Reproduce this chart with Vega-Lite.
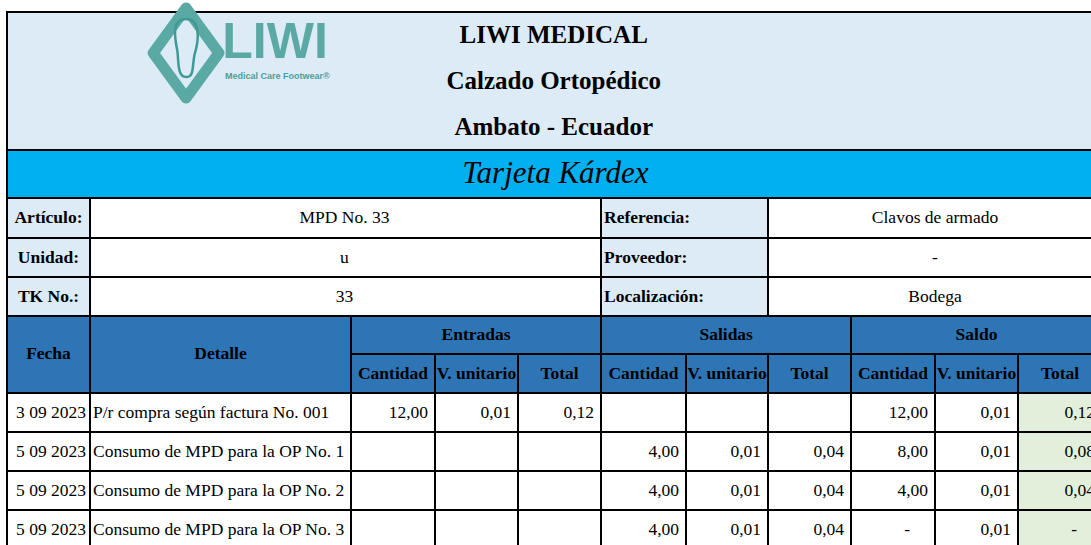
{
  "$schema": "https://vega.github.io/schema/vega-lite/v6.json",
  "width": 1091,
  "height": 545,
  "padding": 0,
  "autosize": "none",
  "background": "white",
  "config": {"view": {"stroke": null}},
  "datasets": {
    "cells": [
      {"c0": 0, "c1": 11, "r0": 0, "r1": 3, "z": "header"},
      {"c0": 0, "c1": 11, "r0": 3, "r1": 4, "z": "banner"},
      {"c0": 0, "c1": 1, "r0": 4, "r1": 5, "z": "label"},
      {"c0": 1, "c1": 5, "r0": 4, "r1": 5, "z": "value"},
      {"c0": 5, "c1": 7, "r0": 4, "r1": 5, "z": "label"},
      {"c0": 7, "c1": 11, "r0": 4, "r1": 5, "z": "value"},
      {"c0": 0, "c1": 1, "r0": 5, "r1": 6, "z": "label"},
      {"c0": 1, "c1": 5, "r0": 5, "r1": 6, "z": "value"},
      {"c0": 5, "c1": 7, "r0": 5, "r1": 6, "z": "label"},
      {"c0": 7, "c1": 11, "r0": 5, "r1": 6, "z": "value"},
      {"c0": 0, "c1": 1, "r0": 6, "r1": 7, "z": "label"},
      {"c0": 1, "c1": 5, "r0": 6, "r1": 7, "z": "value"},
      {"c0": 5, "c1": 7, "r0": 6, "r1": 7, "z": "label"},
      {"c0": 7, "c1": 11, "r0": 6, "r1": 7, "z": "value"},
      {"c0": 0, "c1": 1, "r0": 7, "r1": 9, "z": "colhead"},
      {"c0": 1, "c1": 2, "r0": 7, "r1": 9, "z": "colhead"},
      {"c0": 2, "c1": 5, "r0": 7, "r1": 8, "z": "colhead"},
      {"c0": 5, "c1": 8, "r0": 7, "r1": 8, "z": "colhead"},
      {"c0": 8, "c1": 11, "r0": 7, "r1": 8, "z": "colhead"},
      {"c0": 2, "c1": 3, "r0": 8, "r1": 9, "z": "colhead"},
      {"c0": 3, "c1": 4, "r0": 8, "r1": 9, "z": "colhead"},
      {"c0": 4, "c1": 5, "r0": 8, "r1": 9, "z": "colhead"},
      {"c0": 5, "c1": 6, "r0": 8, "r1": 9, "z": "colhead"},
      {"c0": 6, "c1": 7, "r0": 8, "r1": 9, "z": "colhead"},
      {"c0": 7, "c1": 8, "r0": 8, "r1": 9, "z": "colhead"},
      {"c0": 8, "c1": 9, "r0": 8, "r1": 9, "z": "colhead"},
      {"c0": 9, "c1": 10, "r0": 8, "r1": 9, "z": "colhead"},
      {"c0": 10, "c1": 11, "r0": 8, "r1": 9, "z": "colhead"},
      {"c0": 0, "c1": 1, "r0": 9, "r1": 10, "z": "cell"},
      {"c0": 1, "c1": 2, "r0": 9, "r1": 10, "z": "cell"},
      {"c0": 2, "c1": 3, "r0": 9, "r1": 10, "z": "cell"},
      {"c0": 3, "c1": 4, "r0": 9, "r1": 10, "z": "cell"},
      {"c0": 4, "c1": 5, "r0": 9, "r1": 10, "z": "cell"},
      {"c0": 5, "c1": 6, "r0": 9, "r1": 10, "z": "cell"},
      {"c0": 6, "c1": 7, "r0": 9, "r1": 10, "z": "cell"},
      {"c0": 7, "c1": 8, "r0": 9, "r1": 10, "z": "cell"},
      {"c0": 8, "c1": 9, "r0": 9, "r1": 10, "z": "cell"},
      {"c0": 9, "c1": 10, "r0": 9, "r1": 10, "z": "cell"},
      {"c0": 10, "c1": 11, "r0": 9, "r1": 10, "z": "saldo"},
      {"c0": 0, "c1": 1, "r0": 10, "r1": 11, "z": "cell"},
      {"c0": 1, "c1": 2, "r0": 10, "r1": 11, "z": "cell"},
      {"c0": 2, "c1": 3, "r0": 10, "r1": 11, "z": "cell"},
      {"c0": 3, "c1": 4, "r0": 10, "r1": 11, "z": "cell"},
      {"c0": 4, "c1": 5, "r0": 10, "r1": 11, "z": "cell"},
      {"c0": 5, "c1": 6, "r0": 10, "r1": 11, "z": "cell"},
      {"c0": 6, "c1": 7, "r0": 10, "r1": 11, "z": "cell"},
      {"c0": 7, "c1": 8, "r0": 10, "r1": 11, "z": "cell"},
      {"c0": 8, "c1": 9, "r0": 10, "r1": 11, "z": "cell"},
      {"c0": 9, "c1": 10, "r0": 10, "r1": 11, "z": "cell"},
      {"c0": 10, "c1": 11, "r0": 10, "r1": 11, "z": "saldo"},
      {"c0": 0, "c1": 1, "r0": 11, "r1": 12, "z": "cell"},
      {"c0": 1, "c1": 2, "r0": 11, "r1": 12, "z": "cell"},
      {"c0": 2, "c1": 3, "r0": 11, "r1": 12, "z": "cell"},
      {"c0": 3, "c1": 4, "r0": 11, "r1": 12, "z": "cell"},
      {"c0": 4, "c1": 5, "r0": 11, "r1": 12, "z": "cell"},
      {"c0": 5, "c1": 6, "r0": 11, "r1": 12, "z": "cell"},
      {"c0": 6, "c1": 7, "r0": 11, "r1": 12, "z": "cell"},
      {"c0": 7, "c1": 8, "r0": 11, "r1": 12, "z": "cell"},
      {"c0": 8, "c1": 9, "r0": 11, "r1": 12, "z": "cell"},
      {"c0": 9, "c1": 10, "r0": 11, "r1": 12, "z": "cell"},
      {"c0": 10, "c1": 11, "r0": 11, "r1": 12, "z": "saldo"},
      {"c0": 0, "c1": 1, "r0": 12, "r1": 13, "z": "cell"},
      {"c0": 1, "c1": 2, "r0": 12, "r1": 13, "z": "cell"},
      {"c0": 2, "c1": 3, "r0": 12, "r1": 13, "z": "cell"},
      {"c0": 3, "c1": 4, "r0": 12, "r1": 13, "z": "cell"},
      {"c0": 4, "c1": 5, "r0": 12, "r1": 13, "z": "cell"},
      {"c0": 5, "c1": 6, "r0": 12, "r1": 13, "z": "cell"},
      {"c0": 6, "c1": 7, "r0": 12, "r1": 13, "z": "cell"},
      {"c0": 7, "c1": 8, "r0": 12, "r1": 13, "z": "cell"},
      {"c0": 8, "c1": 9, "r0": 12, "r1": 13, "z": "cell"},
      {"c0": 9, "c1": 10, "r0": 12, "r1": 13, "z": "cell"},
      {"c0": 10, "c1": 11, "r0": 12, "r1": 13, "z": "saldo"}
    ],
    "texts": [
      {"k": "title", "t": "LIWI MEDICAL", "c": 4.43, "r": 0.5},
      {"k": "title", "t": "Calzado Ortopédico", "c": 4.43, "r": 1.5},
      {"k": "title", "t": "Ambato - Ecuador", "c": 4.43, "r": 2.5},
      {"k": "script", "t": "Tarjeta Kárdex", "c": 4.45, "r": 3.5},
      {"k": "labelc", "t": "Artículo:", "c": 0.5, "r": 4.5},
      {"k": "labelc", "t": "Unidad:", "c": 0.5, "r": 5.5},
      {"k": "labelc", "t": "TK No.:", "c": 0.5, "r": 6.5},
      {"k": "label", "t": "Referencia:", "c": 5, "r": 4.5},
      {"k": "label", "t": "Proveedor:", "c": 5, "r": 5.5},
      {"k": "label", "t": "Localización:", "c": 5, "r": 6.5},
      {"k": "value", "t": "MPD No. 33", "c": 1.975, "r": 4.5},
      {"k": "value", "t": "u", "c": 1.975, "r": 5.5},
      {"k": "value", "t": "33", "c": 1.975, "r": 6.5},
      {"k": "value", "t": "Clavos de armado", "c": 9, "r": 4.5},
      {"k": "value", "t": "-", "c": 9, "r": 5.5},
      {"k": "value", "t": "Bodega", "c": 9, "r": 6.5},
      {"k": "head", "t": "Fecha", "c": 0.5, "r": 8},
      {"k": "head", "t": "Detalle", "c": 1.5, "r": 8},
      {"k": "head", "t": "Entradas", "c": 3.494, "r": 7.5},
      {"k": "head", "t": "Salidas", "c": 6.49, "r": 7.5},
      {"k": "head", "t": "Saldo", "c": 9.5, "r": 7.5},
      {"k": "head", "t": "Cantidad", "c": 2.5, "r": 8.5},
      {"k": "head", "t": "V. unitario", "c": 3.5, "r": 8.5},
      {"k": "head", "t": "Total", "c": 4.5, "r": 8.5},
      {"k": "head", "t": "Cantidad", "c": 5.5, "r": 8.5},
      {"k": "head", "t": "V. unitario", "c": 6.5, "r": 8.5},
      {"k": "head", "t": "Total", "c": 7.5, "r": 8.5},
      {"k": "head", "t": "Cantidad", "c": 8.5, "r": 8.5},
      {"k": "head", "t": "V. unitario", "c": 9.5, "r": 8.5},
      {"k": "head", "t": "Total", "c": 10.5, "r": 8.5},
      {"k": "date", "t": "3 09 2023", "c": 1, "r": 9.5},
      {"k": "detail", "t": "P/r compra según factura No. 001", "c": 1, "r": 9.5},
      {"k": "num", "t": "12,00", "c": 3, "r": 9.5},
      {"k": "num", "t": "0,01", "c": 4, "r": 9.5},
      {"k": "num", "t": "0,12", "c": 5, "r": 9.5},
      {"k": "num", "t": "12,00", "c": 9, "r": 9.5},
      {"k": "num", "t": "0,01", "c": 10, "r": 9.5},
      {"k": "num", "t": "0,12", "c": 11, "r": 9.5},
      {"k": "date", "t": "5 09 2023", "c": 1, "r": 10.5},
      {"k": "detail", "t": "Consumo de MPD para la OP No. 1", "c": 1, "r": 10.5},
      {"k": "num", "t": "4,00", "c": 6, "r": 10.5},
      {"k": "num", "t": "0,01", "c": 7, "r": 10.5},
      {"k": "num", "t": "0,04", "c": 8, "r": 10.5},
      {"k": "num", "t": "8,00", "c": 9, "r": 10.5},
      {"k": "num", "t": "0,01", "c": 10, "r": 10.5},
      {"k": "num", "t": "0,08", "c": 11, "r": 10.5},
      {"k": "date", "t": "5 09 2023", "c": 1, "r": 11.5},
      {"k": "detail", "t": "Consumo de MPD para la OP No. 2", "c": 1, "r": 11.5},
      {"k": "num", "t": "4,00", "c": 6, "r": 11.5},
      {"k": "num", "t": "0,01", "c": 7, "r": 11.5},
      {"k": "num", "t": "0,04", "c": 8, "r": 11.5},
      {"k": "num", "t": "4,00", "c": 9, "r": 11.5},
      {"k": "num", "t": "0,01", "c": 10, "r": 11.5},
      {"k": "num", "t": "0,04", "c": 11, "r": 11.5},
      {"k": "date", "t": "5 09 2023", "c": 1, "r": 12.5},
      {"k": "detail", "t": "Consumo de MPD para la OP No. 3", "c": 1, "r": 12.5},
      {"k": "num", "t": "4,00", "c": 6, "r": 12.5},
      {"k": "num", "t": "0,01", "c": 7, "r": 12.5},
      {"k": "num", "t": "0,04", "c": 8, "r": 12.5},
      {"k": "dash", "t": "-", "c": 9, "r": 12.5},
      {"k": "num", "t": "0,01", "c": 10, "r": 12.5},
      {"k": "dash", "t": "-", "c": 11, "r": 12.5}
    ],
    "logo": [
      {"k": "diamond", "c": 1.368, "r": 0.891},
      {"k": "sole", "c": 1.368, "r": 0.783},
      {"k": "word", "t": "LIWI", "c": 1.709, "r": 0.674},
      {"k": "tag", "t": "Medical Care Footwear®", "c": 1.718, "r": 1.39}
    ]
  },
  "layer": [
    {
      "data": {"name": "cells"},
      "mark": {"type": "rect", "stroke": "black", "strokeWidth": 2},
      "encoding": {
        "x": {"field": "c0", "type": "quantitative", "axis": null,
              "scale": {"domain": [0,1,2,3,4,5,6,7,8,9,10,11], "range": [7,90,351,435,518,601,686,768,851,935,1018,1102], "zero": false, "nice": false}},
        "x2": {"field": "c1"},
        "y": {"field": "r0", "type": "quantitative", "axis": null,
              "scale": {"domain": [0,1,2,3,4,5,6,7,8,9,10,11,12,13], "range": [12,58,104,150,198,238,277,316,354,393,432,471,510,549], "zero": false, "nice": false}},
        "y2": {"field": "r1"},
        "fill": {"field": "z", "type": "nominal", "legend": null,
                 "scale": {"domain": ["header","banner","label","value","colhead","cell","saldo"], "range": ["#DDEBF7","#00B0F0","#DDEBF7","#FFFFFF","#2E75B6","#FFFFFF","#E2EFDA"]}}
      }
    },
    {
      "data": {"name": "logo"},
      "transform": [{"filter": "datum.k == 'diamond'"}],
      "mark": {"type": "point", "shape": "M0,-1L0.73,0L0,1L-0.73,0Z", "size": 8100, "filled": false, "stroke": "#5AA9A5", "strokeWidth": 11, "strokeJoin": "round", "opacity": 1},
      "encoding": {
        "x": {"field": "c", "type": "quantitative"},
        "y": {"field": "r", "type": "quantitative"}
      }
    },
    {
      "data": {"name": "logo"},
      "transform": [{"filter": "datum.k == 'sole'"}],
      "mark": {"type": "point", "shape": "M0,-1C0.5,-1 0.45,-0.3 0.3,0.2C0.2,0.6 0.3,1 0,1C-0.3,1 -0.25,0.5 -0.3,0.1C-0.4,-0.4 -0.5,-1 0,-1Z", "size": 3364, "filled": false, "stroke": "#3E9A95", "strokeWidth": 2.5, "opacity": 1},
      "encoding": {
        "x": {"field": "c", "type": "quantitative"},
        "y": {"field": "r", "type": "quantitative"}
      }
    },
    {
      "data": {"name": "logo"},
      "transform": [{"filter": "datum.k == 'word'"}],
      "mark": {"type": "text", "font": "Liberation Sans", "fontWeight": "bold", "fontSize": 50, "color": "#5AA9A5", "align": "center", "baseline": "middle"},
      "encoding": {
        "x": {"field": "c", "type": "quantitative"},
        "y": {"field": "r", "type": "quantitative"},
        "text": {"field": "t"}
      }
    },
    {
      "data": {"name": "logo"},
      "transform": [{"filter": "datum.k == 'tag'"}],
      "mark": {"type": "text", "font": "Liberation Sans", "fontWeight": "bold", "fontSize": 9, "color": "#4E9E9A", "align": "center", "baseline": "middle"},
      "encoding": {
        "x": {"field": "c", "type": "quantitative"},
        "y": {"field": "r", "type": "quantitative"},
        "text": {"field": "t"}
      }
    },
    {
      "data": {"name": "texts"},
      "transform": [{"filter": "datum.k == 'title'"}],
      "mark": {"type": "text", "font": "Liberation Serif", "fontWeight": "bold", "fontSize": 25, "color": "black", "align": "center", "baseline": "middle"},
      "encoding": {
        "x": {"field": "c", "type": "quantitative"},
        "y": {"field": "r", "type": "quantitative"},
        "text": {"field": "t"}
      }
    },
    {
      "data": {"name": "texts"},
      "transform": [{"filter": "datum.k == 'script'"}],
      "mark": {"type": "text", "font": "Liberation Serif", "fontStyle": "italic", "fontSize": 31, "color": "black", "align": "center", "baseline": "middle"},
      "encoding": {
        "x": {"field": "c", "type": "quantitative"},
        "y": {"field": "r", "type": "quantitative"},
        "text": {"field": "t"}
      }
    },
    {
      "data": {"name": "texts"},
      "transform": [{"filter": "datum.k == 'labelc' || datum.k == 'head'"}],
      "mark": {"type": "text", "font": "Liberation Serif", "fontWeight": "bold", "fontSize": 17.5, "color": "black", "align": "center", "baseline": "middle"},
      "encoding": {
        "x": {"field": "c", "type": "quantitative"},
        "y": {"field": "r", "type": "quantitative"},
        "text": {"field": "t"}
      }
    },
    {
      "data": {"name": "texts"},
      "transform": [{"filter": "datum.k == 'label'"}],
      "mark": {"type": "text", "font": "Liberation Serif", "fontWeight": "bold", "fontSize": 17.5, "color": "black", "align": "left", "baseline": "middle", "dx": 3},
      "encoding": {
        "x": {"field": "c", "type": "quantitative"},
        "y": {"field": "r", "type": "quantitative"},
        "text": {"field": "t"}
      }
    },
    {
      "data": {"name": "texts"},
      "transform": [{"filter": "datum.k == 'value'"}],
      "mark": {"type": "text", "font": "Liberation Serif", "fontSize": 17.5, "color": "black", "align": "center", "baseline": "middle"},
      "encoding": {
        "x": {"field": "c", "type": "quantitative"},
        "y": {"field": "r", "type": "quantitative"},
        "text": {"field": "t"}
      }
    },
    {
      "data": {"name": "texts"},
      "transform": [{"filter": "datum.k == 'date'"}],
      "mark": {"type": "text", "font": "Liberation Serif", "fontSize": 17.5, "color": "black", "align": "right", "baseline": "middle", "dx": -4},
      "encoding": {
        "x": {"field": "c", "type": "quantitative"},
        "y": {"field": "r", "type": "quantitative"},
        "text": {"field": "t"}
      }
    },
    {
      "data": {"name": "texts"},
      "transform": [{"filter": "datum.k == 'detail'"}],
      "mark": {"type": "text", "font": "Liberation Serif", "fontSize": 17.5, "color": "black", "align": "left", "baseline": "middle", "dx": 3},
      "encoding": {
        "x": {"field": "c", "type": "quantitative"},
        "y": {"field": "r", "type": "quantitative"},
        "text": {"field": "t"}
      }
    },
    {
      "data": {"name": "texts"},
      "transform": [{"filter": "datum.k == 'num'"}],
      "mark": {"type": "text", "font": "Liberation Serif", "fontSize": 17.5, "color": "black", "align": "right", "baseline": "middle", "dx": -7},
      "encoding": {
        "x": {"field": "c", "type": "quantitative"},
        "y": {"field": "r", "type": "quantitative"},
        "text": {"field": "t"}
      }
    },
    {
      "data": {"name": "texts"},
      "transform": [{"filter": "datum.k == 'dash'"}],
      "mark": {"type": "text", "font": "Liberation Serif", "fontSize": 17.5, "color": "black", "align": "right", "baseline": "middle", "dx": -25},
      "encoding": {
        "x": {"field": "c", "type": "quantitative"},
        "y": {"field": "r", "type": "quantitative"},
        "text": {"field": "t"}
      }
    }
  ]
}
